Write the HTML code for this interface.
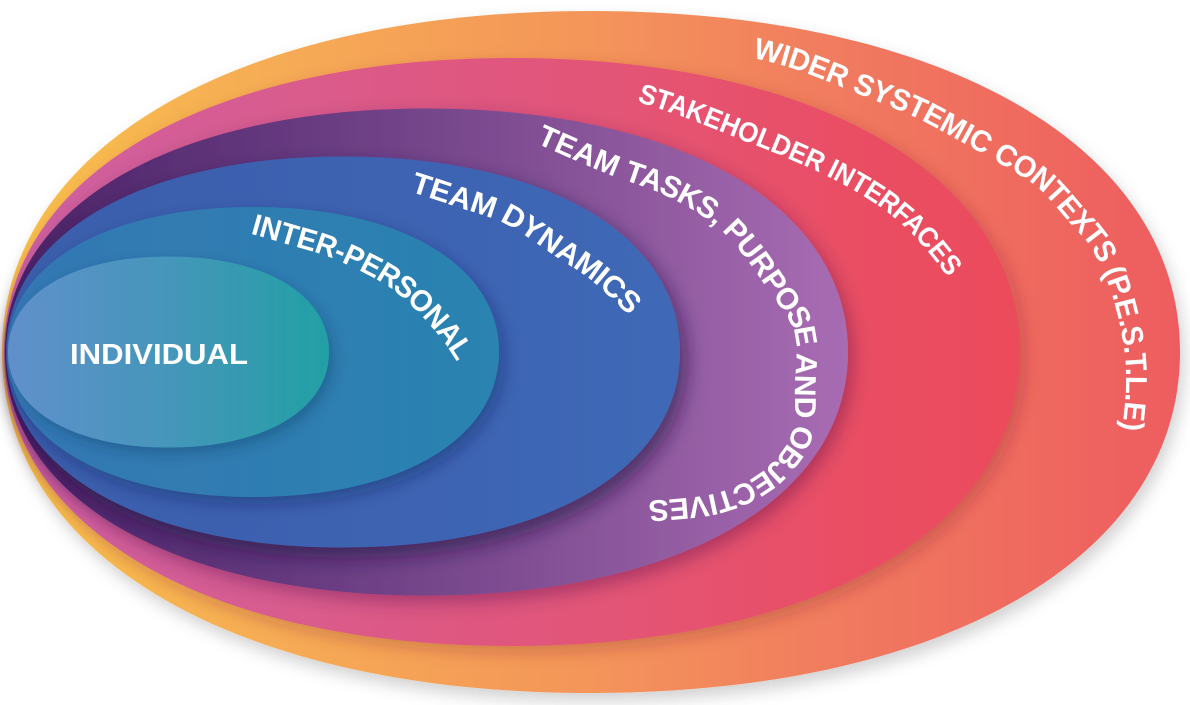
<!DOCTYPE html>
<html>
<head>
<meta charset="utf-8">
<style>
  html,body{margin:0;padding:0;background:#ffffff;}
  body{width:1190px;height:705px;overflow:hidden;}
  svg{display:block;}
  .lbl{font-family:"Liberation Sans",Arial,sans-serif;font-weight:bold;fill:#ffffff;}
</style>
</head>
<body>
<svg width="1190" height="705" viewBox="0 0 1190 705" xmlns="http://www.w3.org/2000/svg" xmlns:xlink="http://www.w3.org/1999/xlink">
  <defs>
    <linearGradient id="gOuter" gradientUnits="userSpaceOnUse" x1="2" y1="0" x2="1180" y2="0">
      <stop offset="0" stop-color="#f8c04c"/>
      <stop offset="0.25" stop-color="#f6aa55"/>
      <stop offset="0.5" stop-color="#f4955a"/>
      <stop offset="0.75" stop-color="#f0765f"/>
      <stop offset="1" stop-color="#ee5c5e"/>
    </linearGradient>
    <linearGradient id="gPink" gradientUnits="userSpaceOnUse" x1="4" y1="0" x2="1020" y2="0">
      <stop offset="0" stop-color="#cd5fa3"/>
      <stop offset="0.3" stop-color="#da5b8c"/>
      <stop offset="0.6" stop-color="#e35476"/>
      <stop offset="0.8" stop-color="#e94f66"/>
      <stop offset="1" stop-color="#ec4b5b"/>
    </linearGradient>
    <linearGradient id="gPurple" gradientUnits="userSpaceOnUse" x1="5" y1="0" x2="848" y2="0">
      <stop offset="0" stop-color="#4a2266"/>
      <stop offset="0.35" stop-color="#673a80"/>
      <stop offset="0.6" stop-color="#7f4d92"/>
      <stop offset="1" stop-color="#a86cb3"/>
    </linearGradient>
    <linearGradient id="gBlue" gradientUnits="userSpaceOnUse" x1="6" y1="0" x2="680" y2="0">
      <stop offset="0" stop-color="#3a5dab"/>
      <stop offset="1" stop-color="#3f68b6"/>
    </linearGradient>
    <linearGradient id="gInter" gradientUnits="userSpaceOnUse" x1="7" y1="0" x2="499" y2="0">
      <stop offset="0" stop-color="#3477b3"/>
      <stop offset="1" stop-color="#2a83b1"/>
    </linearGradient>
    <linearGradient id="gInd" gradientUnits="userSpaceOnUse" x1="8" y1="0" x2="329" y2="0">
      <stop offset="0" stop-color="#6090cb"/>
      <stop offset="0.5" stop-color="#4596bb"/>
      <stop offset="1" stop-color="#22a0a4"/>
    </linearGradient>

    <filter id="shOuter" x="-5%" y="-10%" width="115%" height="125%">
      <feDropShadow dx="4" dy="8" stdDeviation="8" flood-color="#000000" flood-opacity="0.18"/>
    </filter>
    <filter id="shPink" x="-5%" y="-10%" width="115%" height="125%">
      <feDropShadow dx="5" dy="6" stdDeviation="8" flood-color="#7a1a30" flood-opacity="0.28"/>
    </filter>
    <filter id="shPurple" x="-5%" y="-10%" width="115%" height="125%">
      <feDropShadow dx="5" dy="7" stdDeviation="9" flood-color="#3a0a40" flood-opacity="0.35"/>
    </filter>
    <filter id="shBlue" x="-5%" y="-10%" width="115%" height="130%">
      <feDropShadow dx="6" dy="10" stdDeviation="10" flood-color="#1a0a40" flood-opacity="0.6"/>
    </filter>
    <filter id="shInter" x="-5%" y="-10%" width="115%" height="130%">
      <feDropShadow dx="5" dy="7" stdDeviation="8" flood-color="#0a1a50" flood-opacity="0.35"/>
    </filter>
    <filter id="shInd" x="-5%" y="-10%" width="115%" height="130%">
      <feDropShadow dx="4" dy="6" stdDeviation="7" flood-color="#0a2a50" flood-opacity="0.3"/>
    </filter>

    <path id="pInter" d="M253,224 C258.8,225.7 274.2,229.8 288,234 C301.8,238.2 319.5,242.3 336,249 C352.5,255.7 373.3,265.8 387,274 C400.7,282.2 407.8,288.5 418,298 C428.2,307.5 440,321.2 448,331 C456,340.8 463,352.7 466,357"/>
    <path id="pDyn" d="M413,182 C420.2,184.3 439.8,190.5 456,196 C472.2,201.5 493,206.7 510,215 C527,223.3 543.3,236.3 558,246 C572.7,255.7 584.8,262.5 598,273 C611.2,283.5 630.5,303 637,309"/>
    <path id="pTasks" d="M540,134 C551.2,138.8 584.8,154 607,163 C629.2,172 652.5,177.7 673,188 C693.5,198.3 712.7,208.8 730,225 C747.3,241.2 764.7,267.5 777,285 C789.3,302.5 799.3,313.3 804,330 C808.7,346.7 805.5,367.2 805,385 C804.5,402.8 806.8,421.5 801,437 C795.2,452.5 783.8,467 770,478 C756.2,489 738.3,497.5 718,503 C697.7,508.5 659.7,509.7 648,511"/>
    <path id="pStake" d="M640,92 C647.5,94.5 668.5,101 685,107 C701.5,113 720.5,120.7 739,128 C757.5,135.3 778.3,143.3 796,151 C813.7,158.7 829.5,165.7 845,174 C860.5,182.3 875.8,191.3 889,201 C902.2,210.7 912.7,220.2 924,232 C935.3,243.8 951.5,265.3 957,272"/>
    <path id="pWider" d="M755,48 C762.8,50.2 783.2,54.5 802,61 C820.8,67.5 848.5,79.2 868,87 C887.5,94.8 904.5,101.3 919,108 C933.5,114.7 940.7,119.2 955,127 C969.3,134.8 990.2,146.2 1005,155 C1019.8,163.8 1031.8,169.7 1044,180 C1056.2,190.3 1068.7,206.5 1078,217 C1087.3,227.5 1093,231.3 1100,243 C1107,254.7 1114.5,270.8 1120,287 C1125.5,303.2 1130.3,323.7 1133,340 C1135.7,356.3 1136.2,369.7 1136,385 C1135.8,400.3 1132.7,424.2 1132,432"/>
  </defs>

  <!-- Outer: wider systemic contexts -->
  <path filter="url(#shOuter)" fill="url(#gOuter)" d="M2,352 C2,147.4 237.6,11 591,11 C944.4,11 1180,147.4 1180,352 C1180,556.6 944.4,693 591,693 C237.6,693 2,556.6 2,352Z"/>
  <!-- Stakeholder interfaces -->
  <path filter="url(#shPink)" fill="url(#gPink)" d="M4,352 C4,175.6 207.2,58 512,58 C816.8,58 1020,175.6 1020,352 C1020,528.4 816.8,646 512,646 C207.2,646 4,528.4 4,352Z"/>
  <!-- Team tasks -->
  <path filter="url(#shPurple)" fill="url(#gPurple)" d="M5,352 C5,205.9 173.6,108.5 426.5,108.5 C679.4,108.5 848,205.9 848,352 C848,498.1 679.4,595.5 426.5,595.5 C173.6,595.5 5,498.1 5,352Z"/>
  <!-- Team dynamics -->
  <path filter="url(#shBlue)" fill="url(#gBlue)" d="M6,352 C6,234.7 140.8,156.5 343,156.5 C545.2,156.5 680,234.7 680,352 C680,469.3 545.2,547.5 343,547.5 C140.8,547.5 6,469.3 6,352Z"/>
  <!-- Inter-personal -->
  <path filter="url(#shInter)" fill="url(#gInter)" d="M7,352 C7,265 105.4,207 253,207 C400.6,207 499,265 499,352 C499,439 400.6,497 253,497 C105.4,497 7,439 7,352Z"/>
  <!-- Individual -->
  <path filter="url(#shInd)" fill="url(#gInd)" d="M8,352 C8,294.7 72.2,256.5 168.5,256.5 C264.8,256.5 329,294.7 329,352 C329,409.3 264.8,447.5 168.5,447.5 C72.2,447.5 8,409.3 8,352Z"/>

  <!-- Labels -->
  <text class="lbl" x="70" y="364" font-size="29" textLength="178" lengthAdjust="spacingAndGlyphs">INDIVIDUAL</text>

  <text class="lbl" font-size="30" dominant-baseline="central">
    <textPath href="#pInter" xlink:href="#pInter" textLength="262" lengthAdjust="spacingAndGlyphs">INTER-PERSONAL</textPath>
  </text>
  <text class="lbl" font-size="30" dominant-baseline="central">
    <textPath href="#pDyn" xlink:href="#pDyn" textLength="263" lengthAdjust="spacingAndGlyphs">TEAM DYNAMICS</textPath>
  </text>
  <text class="lbl" font-size="30" dominant-baseline="central">
    <textPath href="#pTasks" xlink:href="#pTasks" textLength="633" lengthAdjust="spacingAndGlyphs">TEAM TASKS, PURPOSE AND OBJECTIVES</textPath>
  </text>
  <text class="lbl" font-size="28" dominant-baseline="central">
    <textPath href="#pStake" xlink:href="#pStake" textLength="373" lengthAdjust="spacingAndGlyphs">STAKEHOLDER INTERFACES</textPath>
  </text>
  <text class="lbl" font-size="30" dominant-baseline="central">
    <textPath href="#pWider" xlink:href="#pWider" textLength="602" lengthAdjust="spacingAndGlyphs">WIDER SYSTEMIC CONTEXTS (P.E.S.T.L.E)</textPath>
  </text>
</svg>
<script>
(function(){
  try{
    var tps=document.querySelectorAll('textPath');
    for(var i=0;i<tps.length;i++){
      var tp=tps[i];
      var ref=tp.getAttribute('href')||tp.getAttribute('xlink:href');
      var p=document.getElementById(ref.slice(1));
      if(p&&p.getTotalLength){
        tp.setAttribute('textLength',(p.getTotalLength()-1).toFixed(1));
      }
    }
  }catch(e){}
})();
</script>
</body>
</html>
